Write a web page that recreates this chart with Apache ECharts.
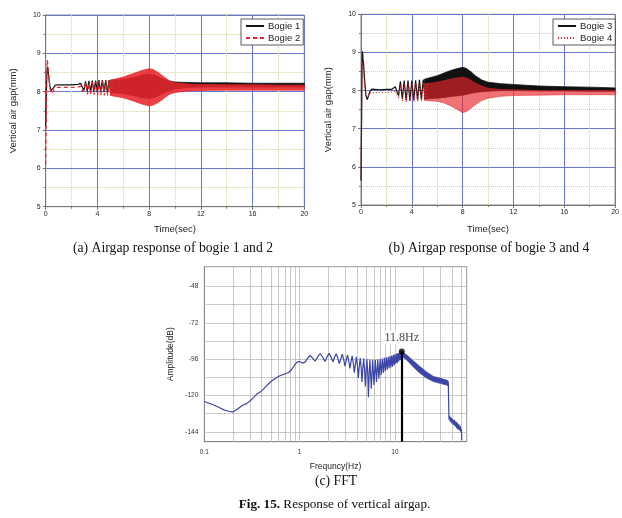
<!DOCTYPE html>
<html><head><meta charset="utf-8">
<script src="https://cdn.jsdelivr.net/npm/echarts@6.0.0/dist/echarts.min.js"></script>
<style>html,body{margin:0;padding:0;background:#fff}#c{width:622px;height:518px}</style>
</head><body><div id="c"></div>
<script>
// ---------- (a) Bogie 1 / Bogie 2 : early response (s, mm) ----------
const b1Time = [0,0.04,0.08,0.13,0.2,0.3,0.4,0.48,0.6,0.75,1.0,1.5,2.0,2.5,2.7,2.85,2.95,3.08,3.21,3.34,3.47,3.6,3.73,3.86,3.99,4.12,4.25,4.38,4.51,4.64,4.77,4.9,5.03,5.16];
const b1Gap  = [7.1,7.8,8.4,8.65,8.5,8.2,8.03,8.0,8.1,8.17,8.18,8.18,8.18,8.19,8.22,8.1,8.03,8.27,8.01,8.28,8.0,8.29,8.0,8.29,7.99,8.3,7.99,8.3,7.99,8.3,7.98,8.3,7.98,8.3];
const b2Time = [0,0.04,0.08,0.12,0.17,0.25,0.35,0.45,0.55,0.7,0.9,1.5,2.0,2.5,2.7,2.85,2.97,3.1,3.23,3.36,3.49,3.62,3.75,3.88,4.01,4.14,4.27,4.4,4.53,4.66,4.79,4.92,5.05,5.18];
const b2Gap  = [6.1,7.2,8.3,8.83,8.7,8.35,8.05,7.95,7.97,8.08,8.11,8.11,8.11,8.12,8.15,8.0,7.95,8.22,7.93,8.24,7.92,8.25,7.92,8.26,7.91,8.27,7.91,8.28,7.9,8.29,7.9,8.3,7.9,8.3];
// (a) dense oscillation envelopes
const b1BandTime = [5,6,7,7.5,8,8.5,9,9.5,10,11,12,14,16,18,20];
const b1BandUp   = [8.30,8.32,8.38,8.44,8.46,8.42,8.34,8.28,8.25,8.24,8.23,8.23,8.22,8.22,8.22];
const b1BandLo   = [7.98,7.95,7.88,7.84,7.82,7.86,7.94,8.02,8.07,8.11,8.12,8.12,8.12,8.12,8.12];
const b2BandTime = [5,6,6.5,7,7.5,8,8.3,8.7,9,9.5,10,11,12,14,16,18,20];
const b2BandUp   = [8.30,8.38,8.44,8.50,8.56,8.60,8.58,8.50,8.42,8.30,8.23,8.20,8.19,8.18,8.18,8.17,8.17];
const b2BandLo   = [7.90,7.84,7.79,7.73,7.67,7.63,7.65,7.72,7.79,7.92,7.98,8.02,8.03,8.04,8.04,8.04,8.04];

// ---------- (b) Bogie 3 / Bogie 4 ----------
const b3Time = [0,0.04,0.08,0.12,0.16,0.2,0.28,0.38,0.48,0.58,0.7,0.85,1.0,1.5,2.0,2.4,2.55,2.7,2.85,2.95,3.1,3.25,3.4,3.55,3.7,3.85,4.0,4.15,4.3,4.45,4.6,4.75,4.9,5.05,5.2];
const b3Gap  = [5.64,7.0,8.5,9.03,8.8,8.7,8.3,7.9,7.76,7.85,7.98,8.04,8.03,8.02,8.03,8.03,8.08,8.1,7.95,7.87,8.24,7.78,8.26,7.74,8.26,7.74,8.26,7.74,8.27,7.75,8.28,7.76,8.29,7.77,8.3];
const b4Time = [0,0.04,0.08,0.12,0.16,0.22,0.3,0.4,0.5,0.6,0.75,1.0,1.5,2.0,2.5,2.7,2.85,2.97,3.12,3.27,3.42,3.57,3.72,3.87,4.02,4.17,4.32,4.47,4.62,4.77,4.92,5.07,5.22];
const b4Gap  = [5.7,7.0,8.2,8.75,8.7,8.4,8.05,7.85,7.82,7.88,7.94,7.95,7.95,7.95,7.96,8.0,7.88,7.8,8.15,7.72,8.18,7.7,8.18,7.7,8.19,7.7,8.2,7.71,8.2,7.72,8.21,7.73,8.22];
const b3BandTime = [5,6,7,7.5,8,8.3,8.7,9,9.5,10,11,12,14,16,18,20];
const b3BandUp   = [8.30,8.39,8.52,8.57,8.61,8.58,8.48,8.39,8.28,8.22,8.18,8.16,8.12,8.10,8.09,8.07];
const b3BandLo   = [7.78,7.80,7.84,7.86,7.88,7.90,7.93,7.95,7.97,7.98,8.0,8.0,7.99,7.99,7.98,7.98];
const b4BandTime = [5,6,6.5,7,7.5,8,8.3,8.7,9,9.5,10,11,12,14,16,18,20];
const b4BandUp   = [8.18,8.22,8.26,8.30,8.33,8.35,8.33,8.26,8.20,8.12,8.06,8.03,8.02,8.00,8.00,8.00,8.00];
const b4BandLo   = [7.74,7.72,7.68,7.61,7.52,7.42,7.45,7.55,7.63,7.74,7.80,7.85,7.87,7.88,7.89,7.89,7.89];

// ---------- (c) FFT (Hz, dB) ----------
const fftFreq = [0.1,0.12,0.14,0.16,0.18,0.2,0.22,0.25,0.28,0.3,0.33,0.36,0.4,0.45,0.5,0.56,0.62,0.7,0.76,0.82,0.88,0.94,1.0,1.07,1.14,1.22,1.29,1.37,1.45,1.55,1.64,1.74,1.85,1.95,2.04,2.14,2.24,2.33,2.42,2.52,2.61,2.71,2.80,2.90,2.99,3.09,3.18,3.28,3.37,3.46,3.56,3.66,3.75,3.85,3.94,4.04,4.13,4.23,4.32,4.42,4.51,4.61,4.70,4.80,4.89,4.99,5.08,5.18,5.27,5.37,5.46,5.65,5.84,6.03,6.22,6.41,6.6,6.79,6.98,7.17,7.36,7.55,7.74,7.93,8.12,8.31,8.5,8.69,8.88,9.07,9.26,9.45,9.64,9.83,10.02,10.21,10.4,10.59,10.78,10.97,11.16,11.35,11.54,11.8];
const fftDb   = [-124.0,-125.8,-127.6,-129.5,-130.4,-130.8,-129.2,-126.6,-125.2,-123.8,-121.2,-118.8,-117,-113.6,-110.8,-108.6,-107,-105.8,-105,-103,-100.2,-98,-97.6,-98.6,-98,-95.2,-93.6,-95.4,-97.4,-94.4,-92.3,-94.6,-97.5,-94.2,-92.2,-94.8,-97.8,-94.6,-92.4,-95.6,-99,-95.6,-92.7,-96.2,-100.6,-96.5,-93.2,-97.4,-102.2,-97.8,-93.8,-98.8,-105,-99,-94.5,-100.5,-108.4,-100.5,-95.1,-101.5,-111,-101.5,-95.6,-103,-114,-103,-96,-105,-121.2,-105,-96.3,-115.5,-96.4,-113,-96.4,-111,-96.2,-109,-96,-106.5,-95.6,-105.2,-95.2,-104,-94.8,-103,-94.4,-102,-94,-101.5,-93.6,-101,-93.2,-100,-92.8,-99,-92.4,-98.5,-92,-97.5,-91.6,-96.5,-91.3,-91.0];
const fftBandFreq = [11.8,13.3,15.5,18.3,21.5,25.3,30,34.4,36.3];
const fftBandUp   = [-91,-93.2,-97,-100.9,-104.5,-107.4,-108.7,-109.7,-110.5];
const fftBandLo   = [-94,-96.5,-101,-105.3,-108.5,-110.8,-112,-113,-113.5];
const fftTailFreq = [36.3,36.6,36.9,37.5,38.2,38.9,39.6,40.4,41.2,42,42.8,43.6,44.4,45.2,46,46.8,47.6,48.4,49.2,49.8,50.3];
const fftTailDb   = [-112,-125,-136,-133.5,-137.5,-134.5,-138.5,-135.5,-139.5,-136,-140.5,-137,-141.5,-138,-142.5,-139,-143,-140,-144,-142,-149.5];
const peakFreq = [11.8];
const peakDb = [-91.0];
const peakLabel = '11.8Hz';
const fftYTicks = [-144,-120,-96,-72,-48];
const fftHGrid = [-144,-132,-120,-108,-96,-84,-72,-60,-48];
const fftVGrid = [0.2,0.3,0.4,0.5,0.6,0.7,0.8,0.9,1,2,3,4,5,6,7,8,9,10,20,30,40,50];

const zip = (a, b) => a.map((v, i) => [v, b[i]]);
const SANS = 'Liberation Sans, Arial, sans-serif';
const SERIF = 'Liberation Serif, Times New Roman, serif';
const BLACK = '#111111', RED = '#e8262b', BLUE = '#3b46a6';

function band(name, xi, yi, ts, ups, los, color, op, z) {
  return {
    type: 'custom', name: name, coordinateSystem: 'cartesian2d', xAxisIndex: xi, yAxisIndex: yi,
    clip: true, silent: true, z: z,
    data: ts.map((t, i) => [t, ups[i], los[i]]),
    encode: { x: 0, y: [1, 2] },
    renderItem: function (params, api) {
      if (params.dataIndex !== 0) return null;
      const top = ts.map((t, i) => api.coord([t, ups[i]]));
      const bot = ts.map((t, i) => api.coord([t, los[i]])).reverse();
      return { type: 'polygon', shape: { points: top.concat(bot) },
               style: { fill: color, stroke: color, lineWidth: 0.8, opacity: op } };
    }
  };
}

function timeX(gi) {
  return { gridIndex: gi, type: 'value', min: 0, max: 20, interval: 4,
    axisLine: { show: true, lineStyle: { color: '#777', width: 1 } },
    axisTick: { show: true, length: 3, lineStyle: { color: '#777' } },
    minorTick: { show: true, splitNumber: 2, length: 2, lineStyle: { color: '#777' } },
    splitLine: { show: true, lineStyle: { color: '#6b78c9', width: 1 } },
    minorSplitLine: { show: true, lineStyle: { color: '#cdd39a', type: 'dotted', width: 1 } },
    axisLabel: { fontSize: 7, color: '#222', margin: 4, fontFamily: SANS },
    name: 'Time(sec)', nameLocation: 'middle', nameGap: gi === 0 ? 18 : 19,
    nameTextStyle: { fontSize: 9.5, color: '#222', fontFamily: SANS } };
}
function gapY(gi) {
  return { gridIndex: gi, type: 'value', min: 5, max: 10, interval: 1,
    axisLine: { show: true, lineStyle: { color: '#777', width: 1 } },
    axisTick: { show: true, length: 3, lineStyle: { color: '#777' } },
    minorTick: { show: true, splitNumber: 2, length: 2, lineStyle: { color: '#777' } },
    splitLine: { show: true, lineStyle: { color: '#6b78c9', width: 1 } },
    minorSplitLine: { show: true, lineStyle: { color: '#cdd39a', type: 'dotted', width: 1 } },
    axisLabel: { fontSize: 7, color: '#222', margin: 5, fontFamily: SANS },
    name: 'Vertical air gap(mm)', nameLocation: 'middle', nameGap: gi === 0 ? 27 : 28,
    nameTextStyle: { fontSize: 9.5, color: '#222', fontFamily: SANS } };
}
function legend(left, names) {
  return { left: left, top: 19, orient: 'vertical', data: names,
    itemWidth: 18, itemHeight: 9, itemGap: 2, padding: [2, 3, 2, 4],
    borderColor: '#333', borderWidth: 0.8, backgroundColor: '#fff', borderRadius: 0,
    itemStyle: { opacity: 0 },
    textStyle: { fontSize: 9.5, color: '#222', fontFamily: SANS, padding: [0, 0, 0, -1] } };
}

const chart = echarts.init(document.getElementById('c'), null, { renderer: 'canvas' });
chart.setOption({
  animation: false,
  backgroundColor: '#fff',
  grid: [
    { left: 45.7, top: 15, width: 258.6, height: 191.7, show: true, borderColor: '#888', borderWidth: 1, backgroundColor: 'transparent' },
    { left: 361, top: 14.3, width: 256.7, height: 190.7, show: true, borderColor: '#888', borderWidth: 1, backgroundColor: 'transparent' },
    { left: 204.3, top: 266.7, width: 262.4, height: 175, show: true, borderColor: '#999', borderWidth: 1, backgroundColor: 'transparent' }
  ],
  legend: [legend(241, ['Bogie 1', 'Bogie 2']), legend(553, ['Bogie 3', 'Bogie 4'])],
  xAxis: [timeX(0), timeX(1), {
    gridIndex: 2, type: 'log', logBase: 10, min: 0.1, max: 56.6,
    axisLine: { show: true, lineStyle: { color: '#888' } },
    axisTick: { show: false }, minorTick: { show: false },
    splitLine: { show: false }, minorSplitLine: { show: false },
    axisLabel: { fontSize: 6.5, color: '#333', margin: 7, fontFamily: SANS, showMaxLabel: false },
    name: 'Frequncy(Hz)', nameLocation: 'middle', nameGap: 20.5,
    nameTextStyle: { fontSize: 8.5, color: '#222', fontFamily: SANS }
  }],
  yAxis: [gapY(0), gapY(1), {
    gridIndex: 2, type: 'value', min: -150.5, max: -35,
    axisLine: { show: true, lineStyle: { color: '#888' } },
    axisTick: { show: false }, splitLine: { show: false },
    axisLabel: { customValues: fftYTicks, fontSize: 6.5, color: '#333', margin: 6, fontFamily: SANS },
    name: 'Amplitude(dB)', nameLocation: 'middle', nameGap: 29,
    nameTextStyle: { fontSize: 8.5, color: '#222', fontFamily: SANS }
  }],
  series: [
    // (a)
    { type: 'line', name: 'Bogie 1', xAxisIndex: 0, yAxisIndex: 0, data: zip(b1Time, b1Gap), symbol: 'none', z: 3,
      lineStyle: { color: BLACK, width: 1.2 }, itemStyle: { color: BLACK } },
    band('Bogie 1 band', 0, 0, b1BandTime, b1BandUp, b1BandLo, BLACK, 1, 3),
    { type: 'line', name: 'Bogie 2', xAxisIndex: 0, yAxisIndex: 0, data: zip(b2Time, b2Gap), symbol: 'none', z: 4,
      lineStyle: { color: RED, width: 1.2, type: [4, 3] }, itemStyle: { color: RED } },
    band('Bogie 2 band', 0, 0, b2BandTime, b2BandUp, b2BandLo, RED, 0.88, 4),
    // (b)
    { type: 'line', name: 'Bogie 3', xAxisIndex: 1, yAxisIndex: 1, data: zip(b3Time, b3Gap), symbol: 'none', z: 3,
      lineStyle: { color: BLACK, width: 1.2 }, itemStyle: { color: BLACK } },
    band('Bogie 3 band', 1, 1, b3BandTime, b3BandUp, b3BandLo, BLACK, 1, 3),
    { type: 'line', name: 'Bogie 4', xAxisIndex: 1, yAxisIndex: 1, data: zip(b4Time, b4Gap), symbol: 'none', z: 4,
      lineStyle: { color: RED, width: 1.2, type: [1, 2] }, itemStyle: { color: RED } },
    band('Bogie 4 band', 1, 1, b4BandTime, b4BandUp, b4BandLo, RED, 0.65, 4),
    // (c)
    { type: 'line', name: 'FFT', xAxisIndex: 2, yAxisIndex: 2, data: zip(fftFreq, fftDb), symbol: 'none', z: 3,
      lineStyle: { color: BLUE, width: 1.2 }, itemStyle: { color: BLUE },
      markLine: { silent: true, symbol: ['none', 'none'], z: 1, animation: false, label: { show: false },
        lineStyle: { color: '#bbb', width: 0.8, type: 'solid' },
        data: fftVGrid.map(v => ({ xAxis: v }))
          .concat(fftHGrid.map(v => ({ yAxis: v, lineStyle: { color: '#999', type: 'dotted', width: 1 } }))) } },
    band('FFT band', 2, 2, fftBandFreq, fftBandUp, fftBandLo, BLUE, 1, 3),
    { type: 'line', name: 'FFT tail', xAxisIndex: 2, yAxisIndex: 2, data: zip(fftTailFreq, fftTailDb), symbol: 'none', z: 3,
      lineStyle: { color: BLUE, width: 1.2 }, itemStyle: { color: BLUE } },
    { type: 'scatter', name: 'Peak', xAxisIndex: 2, yAxisIndex: 2, data: zip(peakFreq, peakDb), symbol: 'circle', symbolSize: 6, z: 6,
      itemStyle: { color: '#000' },
      label: { show: true, position: 'top', distance: 4, formatter: peakLabel, fontFamily: SERIF, fontSize: 12, color: '#111',
               backgroundColor: '#fff', padding: [1, 3] },
      markLine: { silent: true, symbol: ['none', 'none'], z: 5, animation: false, label: { show: false },
        lineStyle: { color: '#000', width: 2.2, type: 'solid' },
        data: [[{ coord: [peakFreq[0], peakDb[0]] }, { coord: [peakFreq[0], -150.5] }]] } }
  ],
  graphic: [
    { type: 'text', x: 173, y: 248, style: { text: '(a) Airgap response of bogie 1 and 2', font: '13.7px ' + SERIF, fill: '#111', textAlign: 'center', textVerticalAlign: 'middle' } },
    { type: 'text', x: 489, y: 248, style: { text: '(b) Airgap response of bogie 3 and 4', font: '13.7px ' + SERIF, fill: '#111', textAlign: 'center', textVerticalAlign: 'middle' } },
    { type: 'text', x: 336, y: 481.7, style: { text: '(c) FFT', font: '13.7px ' + SERIF, fill: '#111', textAlign: 'center', textVerticalAlign: 'middle' } },
    { type: 'text', x: 334.5, y: 504.3, style: { text: '{b|Fig. 15.} Response of vertical airgap.', font: '13.2px ' + SERIF, fill: '#111', textAlign: 'center', textVerticalAlign: 'middle',
      rich: { b: { fontWeight: 'bold', fontFamily: SERIF, fontSize: 13.2, fill: '#111' } } } }
  ]
});
</script></body></html>
